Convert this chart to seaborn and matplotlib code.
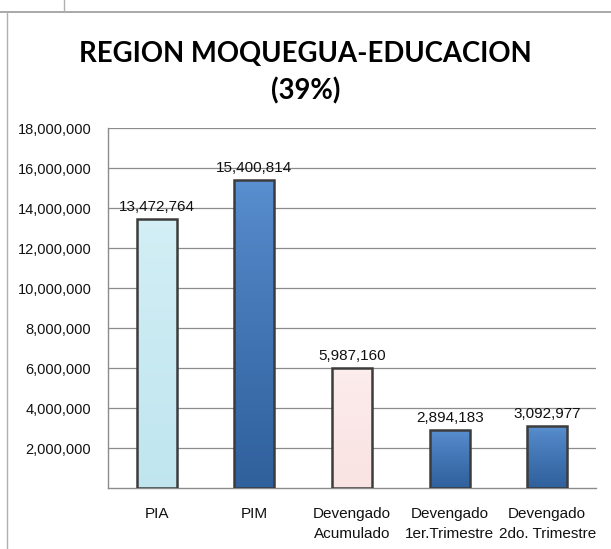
import matplotlib
matplotlib.use("Agg")
import matplotlib.pyplot as plt
import matplotlib.ticker as mticker
import matplotlib.colors as mcolors
import numpy as np
import pandas as pd
import seaborn as sns
from matplotlib.lines import Line2D

# Datos del grafico
categorias = ["PIA", "PIM", "Devengado\nAcumulado", "Devengado\n1er.Trimestre", "Devengado\n2do. Trimestre"]
montos = [13472764, 15400814, 5987160, 2894183, 3092977]
colores = ["#C2E8F2", "#3D7CC9", "#FCE5E5", "#3D7CC9", "#3D7CC9"]
y_ticks = [2000000, 4000000, 6000000, 8000000, 10000000, 12000000, 14000000, 16000000, 18000000]

df = pd.DataFrame({"categoria": categorias, "monto": montos})

sns.set_theme(style="white")
plt.rcParams["font.family"] = ["Liberation Sans Narrow", "Liberation Sans", "DejaVu Sans"]

fig = plt.figure(figsize=(6.11, 5.49), dpi=100)
ax = fig.add_axes([0.1768, 0.1111, 0.7987, 0.6557])

sns.barplot(
    data=df, x="categoria", y="monto", hue="categoria",
    palette=colores, legend=False, width=0.41, saturation=1,
    edgecolor="#3c3c3c", linewidth=1.8, ax=ax, zorder=3
)

ax.set_ylim(0, 18000000)
xlim = ax.get_xlim()

# degradado vertical dentro de cada barra (solo se nota en las barras oscuras)
for p in ax.patches:
    base = np.array(mcolors.to_rgb(p.get_facecolor()))
    oscuro = base.mean() < 0.6
    top = base + (1 - base) * (0.15 if oscuro else 0.3)
    bottom = base * (0.78 if oscuro else 0.99)
    t = np.linspace(0, 1, 100)[:, None] ** 0.8
    grad = (top[None, :] * (1 - t) + bottom[None, :] * t)[:, None, :]
    x0, w, h = p.get_x(), p.get_width(), p.get_height()
    im = ax.imshow(grad, extent=(x0, x0 + w, 0, h), origin="upper", aspect="auto", zorder=2.9)
    im.set_clip_path(p)
    p.set_facecolor("none")

ax.set_xlim(xlim)
ax.set_ylim(0, 18000000)

# Etiquetas de datos
for i, v in enumerate(montos):
    ax.text(i, v + 250000, f"{v:,.0f}", ha="center", va="bottom", fontsize=11, color="#111111")

ax.set_yticks(y_ticks)
ax.yaxis.set_major_formatter(mticker.StrMethodFormatter("{x:,.0f}"))
ax.grid(axis="y", color="#8c8c8c", linewidth=0.9, zorder=0)
ax.set_axisbelow(True)
ax.set_xlabel("")
ax.set_ylabel("")
ax.tick_params(axis="y", labelsize=10.5, colors="#111111", length=0, pad=12)
ax.tick_params(axis="x", labelsize=11, colors="#111111", length=0, pad=14)
for lbl in ax.get_xticklabels():
    lbl.set_linespacing(1.5)

for s in ["top", "right"]:
    ax.spines[s].set_visible(False)
for s in ["left", "bottom"]:
    ax.spines[s].set_color("#8c8c8c")
    ax.spines[s].set_linewidth(1.0)

# Titulo
fig.text(0.5, 1 - 54 / 549, "REGION MOQUEGUA-EDUCACION", ha="center", va="center", color="black",
         fontsize=19.8, fontweight="bold", family=["Lato", "DejaVu Sans"])
fig.text(0.5, 1 - 91 / 549, "(39%)", ha="center", va="center", color="black",
         fontsize=19.8, fontweight="bold", family=["Lato", "DejaVu Sans"])

# Bordes de celda de la hoja de calculo
fig.add_artist(Line2D([0, 1], [1 - 12 / 549, 1 - 12 / 549], color="#9a9a9a", linewidth=1.2, transform=fig.transFigure))
fig.add_artist(Line2D([7 / 611, 7 / 611], [0, 1 - 12 / 549], color="#b0b0b0", linewidth=1.0, transform=fig.transFigure))
fig.add_artist(Line2D([64 / 611, 64 / 611], [1 - 12 / 549, 1], color="#b0b0b0", linewidth=1.0, transform=fig.transFigure))

fig.savefig("out.png", dpi=100)
